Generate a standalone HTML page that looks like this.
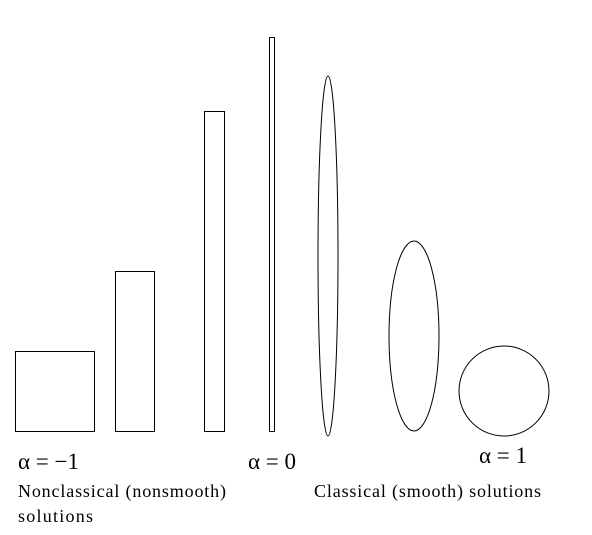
<!DOCTYPE html>
<html><head><meta charset="utf-8"><style>
html,body{margin:0;padding:0;background:#fff;}
svg{display:block;font-family:"Liberation Serif",serif;}
</style></head><body>
<svg width="592" height="535" viewBox="0 0 592 535">
<g fill="none" stroke="#000" stroke-width="1">
<rect x="15.5" y="351.5" width="79" height="80"/>
<rect x="115.5" y="271.5" width="39" height="160"/>
<rect x="204.5" y="111.5" width="20" height="320"/>
<rect x="269.5" y="37.5" width="5" height="394"/>
<ellipse cx="328" cy="256" rx="10" ry="180"/>
<ellipse cx="414" cy="336" rx="25" ry="95"/>
<circle cx="504" cy="391" r="45"/>
</g>
<g fill="#000">
<text x="18" y="469" font-size="23">α = −1</text>
<text x="248" y="469" font-size="23">α = 0</text>
<text x="479" y="463" font-size="23">α = 1</text>
<text x="18" y="497" font-size="18" textLength="208">Nonclassical (nonsmooth)</text>
<text x="18" y="522" font-size="18" textLength="75">solutions</text>
<text x="314" y="497" font-size="18" textLength="227">Classical (smooth) solutions</text>
</g>
</svg>
</body></html>
